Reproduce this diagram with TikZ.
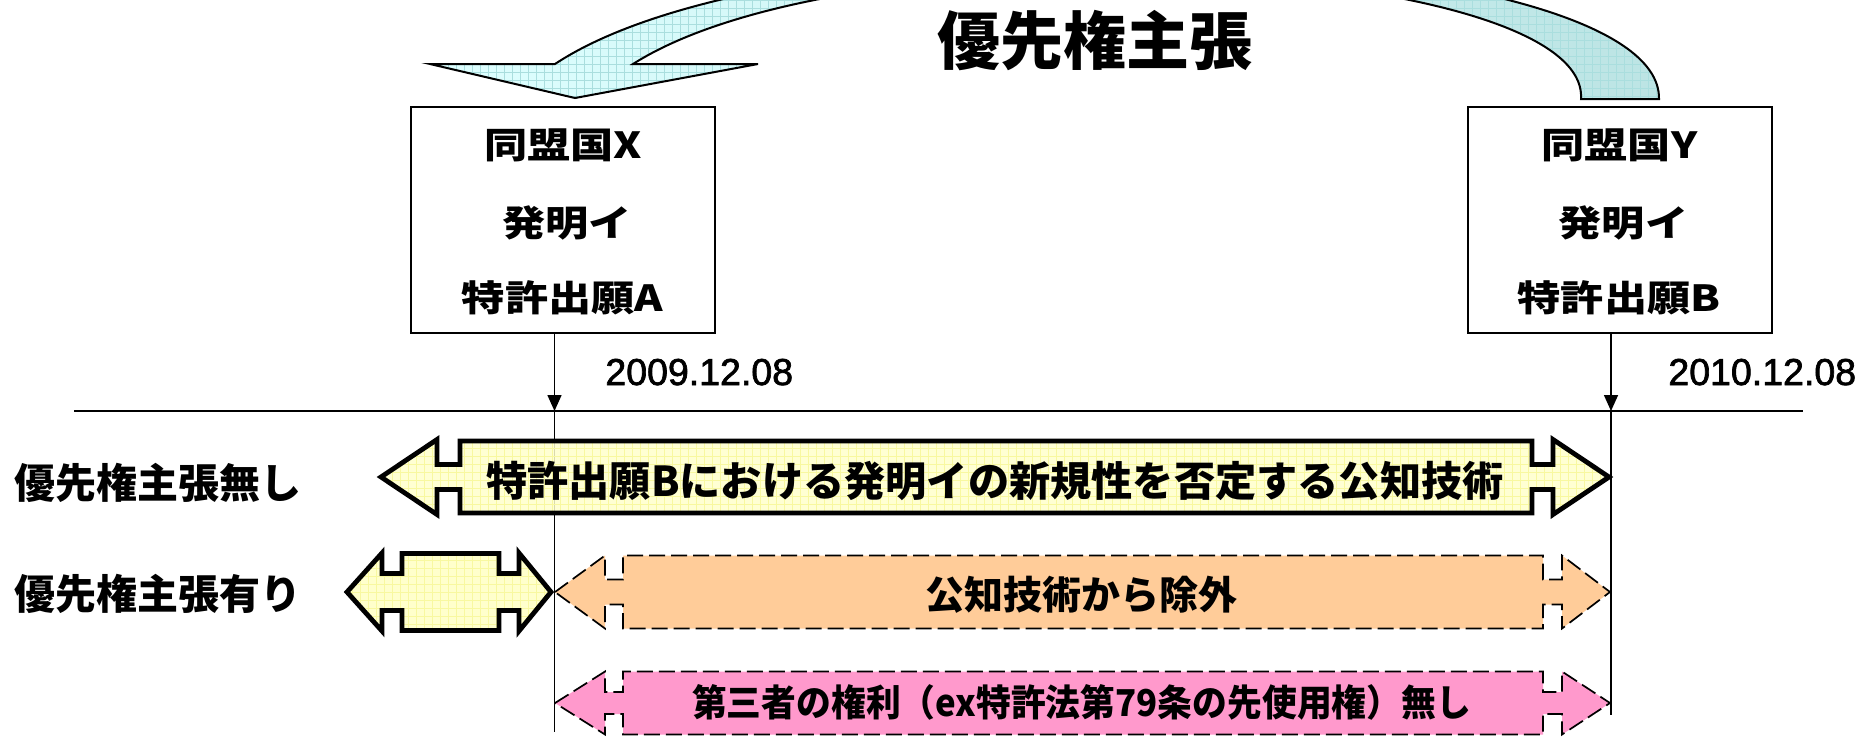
\documentclass[tikz,border=0pt]{standalone}
\usepackage{fontspec}
\usepackage{graphicx}
\setmainfont{Noto Sans CJK JP}
\newfontface\latinfont{Liberation Sans}[FakeBold=1.8]
\usetikzlibrary{arrows.meta}
\definecolor{cyanL}{RGB}{222,255,255}
\definecolor{cyanR}{RGB}{188,228,228}
\definecolor{cyanGrid}{RGB}{170,222,222}
\definecolor{yelFill}{RGB}{255,255,204}
\definecolor{yelGrid}{RGB}{248,248,160}
\definecolor{orgFill}{RGB}{255,204,153}
\definecolor{pnkFill}{RGB}{255,153,204}
\newcommand{\jfont}[1]{\fontsize{#1}{#1}\selectfont\bfseries}
\newcommand{\hx}[1]{\scalebox{1.2}[1]{#1}}

\def\curvedpath{(430,64) -- (575,98) -- (758,64) -- (633,64) .. controls (860,-80) and (1590,-40) .. (1581,99) -- (1659,99) .. controls (1662,-60) and (800,-98) .. (555,64) -- cycle}
\def\bigyel{(381,477) -- (437,439.5) -- (437,464.5) -- (460,464.5) -- (460,441) -- (1532,441) -- (1532,464.5) -- (1553,464.5) -- (1553,439.5) -- (1609,477) -- (1553,514.5) -- (1553,489.5) -- (1532,489.5) -- (1532,513) -- (460,513) -- (460,489.5) -- (437,489.5) -- (437,514.5) -- cycle}
\def\smallyel{(347,592) -- (382,553) -- (382,573.5) -- (402,573.5) -- (402,553.5) -- (499,553.5) -- (499,573.5) -- (519,573.5) -- (519,553) -- (551,592) -- (519,631) -- (519,610.5) -- (499,610.5) -- (499,630.5) -- (402,630.5) -- (402,610.5) -- (382,610.5) -- (382,631) -- cycle}
\def\orgarrow{(555,592) -- (605,555.5) -- (605,579.5) -- (623,579.5) -- (623,555.5) -- (1543,555.5) -- (1543,579.5) -- (1562,579.5) -- (1562,555.5) -- (1610,592) -- (1562,628.5) -- (1562,604.5) -- (1543,604.5) -- (1543,628.5) -- (623,628.5) -- (623,604.5) -- (605,604.5) -- (605,628.5) -- cycle}
\def\pnkarrow{(555,703) -- (605,671.5) -- (605,692) -- (623,692) -- (623,671.5) -- (1543,671.5) -- (1543,692) -- (1562,692) -- (1562,671.5) -- (1610,703) -- (1562,734.5) -- (1562,714) -- (1543,714) -- (1543,734.5) -- (623,734.5) -- (623,714) -- (605,714) -- (605,734.5) -- cycle}

\begin{document}
\begin{tikzpicture}[x=0.5pt,y=-0.5pt,
  box/.style={draw, line width=1pt, minimum width=152pt, minimum height=113pt, inner sep=0pt},
  boxtxt/.style={inner sep=0pt, font=\jfont{18pt}},
  rowlbl/.style={inner sep=0pt, anchor=west, font=\jfont{20.5pt}},
  datelbl/.style={inner sep=0pt, anchor=base west, font=\latinfont\fontsize{18.75pt}{20pt}\selectfont},
  conn/.style={line width=0.75pt, -{Triangle[length=8pt,width=7pt]}},
  vline/.style={line width=0.75pt},
  timeline/.style={line width=1pt},
  fatline/.style={draw, line width=2.4pt, line join=miter},
  dashline/.style={draw, line width=0.85pt, dash pattern=on 8pt off 3pt},
  gridy/.style={yelGrid, line width=0.3pt}
]
\useasboundingbox (0,0) rectangle (1874,736);
\clip (0,0) rectangle (1874,736);
\fill[white] (0,0) rectangle (1874,736);

% curved priority arrow
\shade[left color=cyanL, right color=cyanR] \curvedpath;
\begin{scope}
  \clip \curvedpath;
  \draw[cyanGrid, line width=0.3pt, step=4pt] (420,110) grid (1670,-110);
\end{scope}
\draw[line width=1pt] \curvedpath;

\node[inner sep=0pt, font=\jfont{31.5pt}] (title) at (1094.5,40.5) {優先権主張};

% boxes
\node[box] (boxX) at (563,220) {};
\node[box] (boxY) at (1619.5,220) {};
\node[boxtxt] (xa) at (563,145.5) {\hx{同盟国X}};
\node[boxtxt] (xb) at (567,222.5) {\hx{発明イ}};
\node[boxtxt] (xc) at (562.5,297.5) {\hx{特許出願A}};
\node[boxtxt] (ya) at (1619.5,145.5) {\hx{同盟国Y}};
\node[boxtxt] (yb) at (1623.5,222.5) {\hx{発明イ}};
\node[boxtxt] (yc) at (1619,297.5) {\hx{特許出願B}};

% timeline
\coordinate (tA) at (554.5,411);
\coordinate (tB) at (1611,411);
\coordinate (eA) at (554.5,732);
\coordinate (eB) at (1611,715);
\coordinate (tl0) at (74,411);
\coordinate (tl1) at (1803,411);
\draw[timeline] (tl0) -- (tl1);
\node[datelbl] (dA) at (605,385) {2009.12.08};
\node[datelbl] (dB) at (1668,385) {2010.12.08};

% row labels
\node[rowlbl] (r1) at (14,482.5) {優先権主張無し};
\node[rowlbl] (r2) at (14,594) {優先権主張有り};

% orange and pink dashed arrows
\fill[orgFill] \orgarrow;
\path[dashline] \orgarrow;
\fill[pnkFill] \pnkarrow;
\path[dashline] \pnkarrow;

% vertical lines
\draw[conn] (boxX.south -| tA) -- (tA);
\draw[conn] (boxY.south -| tB) -- (tB);
\draw[vline] (tA) -- (eA);
\draw[vline] (tB) -- (eB);

% big yellow arrow
\fill[yelFill, fill opacity=0.85] \bigyel;
\begin{scope}
  \clip \bigyel;
  \draw[gridy, step=4pt] (370,530) grid (1620,430);
\end{scope}
\path[fatline] \bigyel;

% small yellow arrow
\fill[yelFill] \smallyel;
\begin{scope}
  \clip \smallyel;
  \draw[gridy, step=4pt] (340,640) grid (560,545);
\end{scope}
\path[fatline] \smallyel;

\node[inner sep=0pt, font=\jfont{20.6pt}] (t1) at (995,481) {特許出願Bにおける発明イの新規性を否定する公知技術};
\node[inner sep=0pt, font=\jfont{19.5pt}] (t2) at (1081.5,595) {公知技術から除外};
\node[inner sep=0pt, font=\jfont{18.5pt}] (t3) at (1081.5,702) {\scalebox{0.94}[1]{第三者の権利（ex特許法第79条の先使用権）無し}};
\end{tikzpicture}
\end{document}
